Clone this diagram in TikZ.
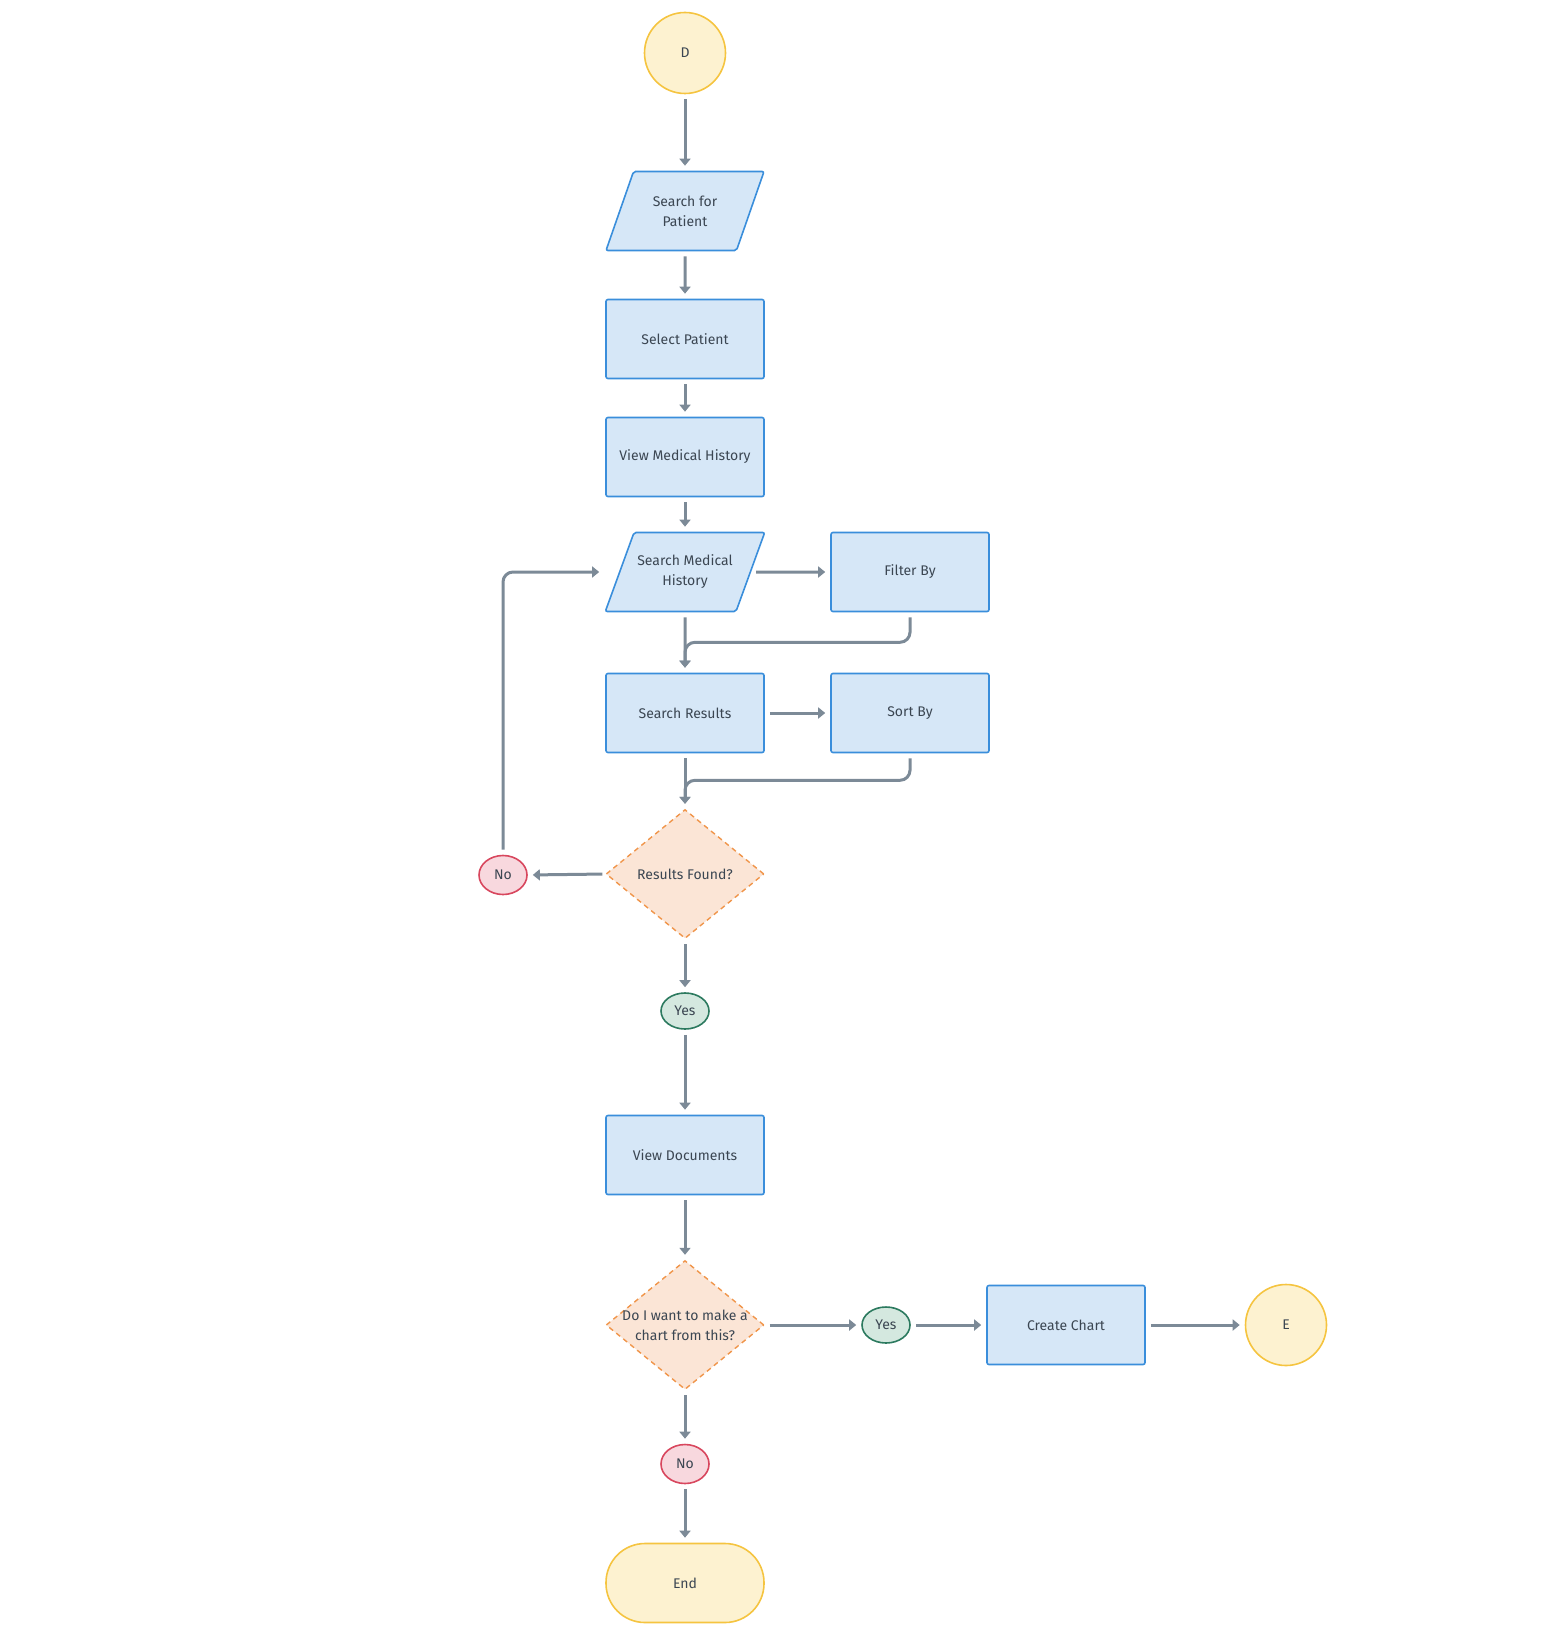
\documentclass[tikz,border=0pt]{standalone}
\usepackage{fontspec}
\setmainfont{Fira Sans}
\usetikzlibrary{arrows.meta, positioning, shapes.geometric}

\definecolor{inkGray}{HTML}{3B4652}
\definecolor{lineGray}{HTML}{7C8A97}
\definecolor{boxFill}{HTML}{D6E7F7}
\definecolor{boxLine}{HTML}{3A8EDB}
\definecolor{termFill}{HTML}{FDF2D0}
\definecolor{termLine}{HTML}{F5C440}
\definecolor{decFill}{HTML}{FBE5D6}
\definecolor{decLine}{HTML}{F0954A}
\definecolor{noFill}{HTML}{F8D8DE}
\definecolor{noLine}{HTML}{D8475E}
\definecolor{yesFill}{HTML}{D4E8DF}
\definecolor{yesLine}{HTML}{2C7A5F}

\begin{document}
\begin{tikzpicture}[x=1pt, y=-1pt,
  every node/.style={font=\fontsize{14}{20}\selectfont, text=inkGray, align=center},
  proc/.style={draw=boxLine, fill=boxFill, line width=1.6pt, rounded corners=2pt,
    minimum width=158pt, minimum height=79pt},
  inout/.style={trapezium, trapezium left angle=70, trapezium right angle=110,
    trapezium stretches body=true, inner ysep=22.5pt, draw=boxLine, fill=boxFill,
    line width=1.6pt, rounded corners=2pt, minimum width=158pt, minimum height=79pt},
  term/.style={circle, draw=termLine, fill=termFill, line width=1.6pt, minimum size=81pt},
  decide/.style={diamond, draw=decLine, fill=decFill, line width=1.4pt,
    dash pattern=on 5pt off 4pt, minimum width=158pt, minimum height=129pt, inner sep=0pt},
  nobub/.style={ellipse, draw=noLine, fill=noFill, line width=1.6pt,
    minimum width=48pt, minimum height=39pt, inner sep=0pt},
  yesbub/.style={ellipse, draw=yesLine, fill=yesFill, line width=1.6pt,
    minimum width=48pt, minimum height=36pt, inner sep=0pt},
  flow/.style={draw=lineGray, line width=3pt, -{Triangle[length=7pt, width=11pt]},
    shorten <=5pt, shorten >=5pt, rounded corners=10pt}]
  \useasboundingbox (0,0) rectangle (1557,1637);

  % 上の流れ
  \node[term] (startD) at (685,53) {D};
  \node[inout] (findPat) at (685,211) {Search for\\Patient};
  \node[proc] (selPat) at (685,339) {Select Patient};
  \node[proc] (viewHist) at (685,457) {View Medical History};
  \node[inout] (findHist) at (685,572) {Search Medical\\History};
  \node[proc] (filterBy) at (910,572) {Filter By};
  \node[proc] (results) at (685,713) {Search Results};
  \node[proc] (sortBy) at (910,713) {Sort By};

  % 判定 1
  \node[decide] (found) at (685,874) {Results Found?};
  \node[nobub] (noA) at (503,875) {No};
  \node[yesbub] (yesA) at (685,1011) {Yes};

  % 下の流れ
  \node[proc] (viewDocs) at (685,1155) {View Documents};
  \node[decide, label={[align=center]center:Do I want to make a\\chart from this?}]
    (wantChart) at (685,1325) {};
  \node[yesbub] (yesB) at (886,1325) {Yes};
  \node[proc] (mkChart) at (1066,1325) {Create Chart};
  \node[term] (endE) at (1286,1325) {E};
  \node[nobub] (noB) at (685,1464) {No};
  \node[proc, rounded corners=39pt, draw=termLine, fill=termFill] (finish) at (685,1583) {End};

  % 矢印
  \draw[flow] (startD) -- (findPat);
  \draw[flow] (findPat) -- (selPat);
  \draw[flow] (selPat) -- (viewHist);
  \draw[flow] (viewHist) -- (findHist);
  \draw[flow] (findHist.east) -- (filterBy.west);
  \draw[flow] (findHist.south) -- (results.north);
  \draw[flow] (filterBy.south) -- ++(0,30) -| (results.north);
  \draw[flow] (results) -- (sortBy);
  \draw[flow] (results.south) -- (found.north);
  \draw[flow] (sortBy.south) -- ++(0,27) -| (found.north);
  \draw[flow, shorten <=3pt] (found.west) -- (noA.east);
  \draw[flow] (noA.north) |- (findHist.bottom left corner |- findHist.west);
  \draw[flow] (found.south) -- (yesA.north);
  \draw[flow] (yesA.south) -- (viewDocs.north);
  \draw[flow] (viewDocs) -- (wantChart);
  \draw[flow] (wantChart.east) -- (yesB.west);
  \draw[flow] (yesB) -- (mkChart);
  \draw[flow] (mkChart) -- (endE);
  \draw[flow] (wantChart.south) -- (noB.north);
  \draw[flow] (noB.south) -- (finish.north);
\end{tikzpicture}
\end{document}
